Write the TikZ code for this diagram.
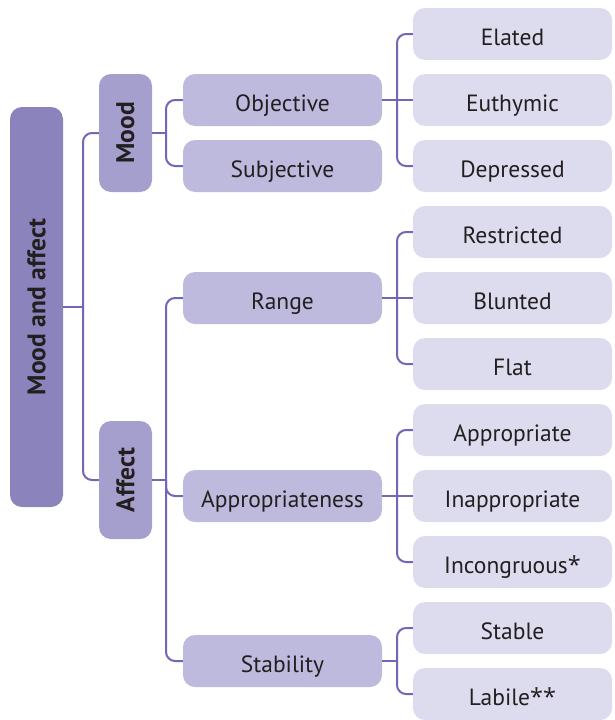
\documentclass[tikz,border=0pt]{standalone}
\usepackage{fontspec}
\setmainfont{PT Sans}
\newfontfamily\astfont{Open Sans}
\definecolor{linec}{RGB}{112,104,180}
\definecolor{c0}{RGB}{139,132,188}
\definecolor{c1}{RGB}{164,159,204}
\definecolor{c2}{RGB}{190,186,221}
\definecolor{c3}{RGB}{221,219,238}
\definecolor{txt}{RGB}{35,31,32}
\newcommand{\myast}{{\astfont *}}
\begin{document}
\begin{tikzpicture}[x=1pt,y=-1pt,
  box/.style={rounded corners=12pt,inner sep=0pt,text=txt},
  hbox/.style={box,font=\fontsize{23.5}{26}\selectfont,text height=22.5pt,text depth=0pt},
  vbox/.style={box,font=\fontsize{25.5}{28}\selectfont\bfseries},
  rootbox/.style={vbox,fill=c0,minimum width=53pt,minimum height=400pt},
  catbox/.style={vbox,fill=c1,minimum width=53pt,minimum height=118pt},
  midbox/.style={hbox,fill=c2,minimum width=199pt,minimum height=52pt},
  leafbox/.style={hbox,fill=c3,minimum width=199pt,minimum height=52pt},
  conn/.style={draw=linec,line width=2pt,rounded corners=9pt}]
\useasboundingbox (0,0) rectangle (614,720);
% root and categories
\node[rootbox] (root) at (36.5,307) {\rotatebox{90}{Mood and affect}};
\node[catbox] (mood) at (125.5,133) {\rotatebox{90}{Mood}};
\node[catbox] (affect) at (125.5,480) {\rotatebox{90}{Affect}};
% middle level
\node[midbox] (obj) at (282.5,100) {Objective};
\node[midbox] (subj) at (282.5,166) {Subjective};
\node[midbox] (range) at (282.5,298) {Range};
\node[midbox] (appr) at (282.5,496) {Appropriateness};
\node[midbox] (stab) at (282.5,661) {Stability};
% leaves
\node[leafbox] (elated) at (512.5,34) {Elated};
\node[leafbox] (euthymic) at (512.5,100) {Euthymic};
\node[leafbox] (depressed) at (512.5,166) {Depressed};
\node[leafbox] (restricted) at (512.5,232) {Restricted};
\node[leafbox] (blunted) at (512.5,298) {Blunted};
\node[leafbox] (flat) at (512.5,364) {Flat};
\node[leafbox] (approp) at (512.5,430) {Appropriate};
\node[leafbox] (inapprop) at (512.5,496) {Inappropriate};
\node[leafbox] (incong) at (512.5,562) {Incongruous\myast};
\node[leafbox] (stable) at (512.5,628) {Stable};
\node[leafbox] (labile) at (512.5,694) {Labile\myast\myast};
% junctions
\coordinate (j0) at (83,307);
\coordinate (j1) at (166,133);
\coordinate (j2) at (166,480);
\coordinate (j3) at (397,100);
\coordinate (j4) at (397,298);
\coordinate (j5) at (397,496);
\coordinate (j6) at (397,661);
% connectors
\draw[conn] (root.east) -- (j0);
\draw[conn] (mood.west) -| (j0) |- (affect.west);
\draw[conn] (mood.east) -- (j1);
\draw[conn] (obj.west) -| (j1) |- (subj.west);
\draw[conn] (affect.east) -- (j2);
\draw[conn] (range.west) -| (j2) |- (stab.west);
\draw[conn] (j2) |- (appr.west);
\draw[conn] (obj.east) -- (euthymic.west);
\draw[conn] (elated.west) -| (j3) |- (depressed.west);
\draw[conn] (range.east) -- (blunted.west);
\draw[conn] (restricted.west) -| (j4) |- (flat.west);
\draw[conn] (appr.east) -- (inapprop.west);
\draw[conn] (approp.west) -| (j5) |- (incong.west);
\draw[conn] (stab.east) -- (j6);
\draw[conn] (stable.west) -| (j6) |- (labile.west);
\end{tikzpicture}
\end{document}
